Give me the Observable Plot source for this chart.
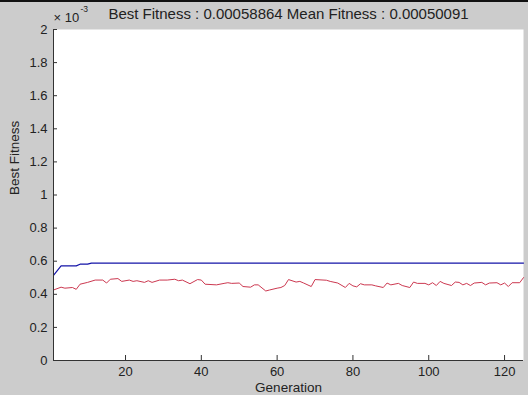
<!DOCTYPE html>
<html>
<head>
<meta charset="utf-8">
<script src="https://cdn.jsdelivr.net/npm/d3@7"></script>
<script src="https://cdn.jsdelivr.net/npm/@observablehq/plot@0.6"></script>
<style>
  html, body { margin: 0; padding: 0; background: #cccccc; }
  #topbar { height: 2px; background: #111; }
  #chart svg { display: block; }
</style>
</head>
<body>
<div id="topbar"></div>
<div id="chart"></div>
<script>
// ---- data (fitness values in units of 1e-3) ----
const titleText = "Best Fitness : 0.00058864 Mean Fitness : 0.00050091";
const xLabel = "Generation";
const yLabel = "Best Fitness";
const xDomain = [1, 125];
const yDomain = [0, 2];
const xTicks = [20, 40, 60, 80, 100, 120];
const yTicks = [0, 0.2, 0.4, 0.6, 0.8, 1, 1.2, 1.4, 1.6, 1.8, 2];

const bestGen = [1, 3, 7, 8, 10, 11, 125];
const bestVal = [0.515, 0.572, 0.572, 0.582, 0.582, 0.5886, 0.5886];

const meanGen = [1, 3, 4, 6, 7, 8, 10, 12, 14, 15, 16, 18, 19, 21, 22, 23, 25, 26, 27, 29,
  31, 33, 34, 35, 37, 39, 40, 41, 44, 46, 47, 48, 50, 51, 53, 54, 55, 57, 58, 60,
  61, 62, 63, 65, 66, 67, 69, 70, 73, 74, 76, 78, 79, 80, 81, 82, 83, 85, 86, 88,
  89, 90, 92, 93, 95, 96, 97, 99, 100, 101, 102, 103, 104, 106, 107, 108, 109, 110, 111, 112,
  114, 115, 116, 118, 119, 120, 121, 122, 124, 125];
const meanVal = [0.426, 0.443, 0.437, 0.441, 0.430, 0.461, 0.472, 0.486, 0.486, 0.468, 0.491, 0.495, 0.478, 0.486, 0.478, 0.482, 0.472, 0.482, 0.472, 0.486,
  0.486, 0.491, 0.482, 0.486, 0.464, 0.489, 0.486, 0.461, 0.457, 0.466, 0.470, 0.466, 0.468, 0.447, 0.443, 0.457, 0.457, 0.420, 0.426, 0.437,
  0.441, 0.453, 0.489, 0.474, 0.478, 0.468, 0.447, 0.489, 0.485, 0.478, 0.468, 0.441, 0.466, 0.451, 0.445, 0.464, 0.457, 0.457, 0.451, 0.441,
  0.468, 0.457, 0.466, 0.453, 0.441, 0.474, 0.466, 0.466, 0.457, 0.470, 0.453, 0.478, 0.466, 0.453, 0.474, 0.472, 0.457, 0.466, 0.453, 0.468,
  0.472, 0.457, 0.468, 0.470, 0.457, 0.468, 0.447, 0.470, 0.470, 0.501];

const best = bestGen.map((g, i) => ({gen: g, value: bestVal[i]}));
const mean = meanGen.map((g, i) => ({gen: g, value: meanVal[i]}));

const font = "'Liberation Sans', Arial, Helvetica, sans-serif";
const ink = "#222";

const chart = Plot.plot({
  width: 528,
  height: 393,
  marginLeft: 53,
  marginRight: 5,
  marginTop: 27,
  marginBottom: 35,
  style: {background: "#cccccc", fontFamily: font, fontSize: "13px", color: ink, overflow: "visible"},
  x: {domain: xDomain},
  y: {domain: yDomain},
  marks: [
    Plot.frame({fill: "white", stroke: null}),
    Plot.line(mean, {x: "gen", y: "value", stroke: "#cc3850", strokeWidth: 1}),
    Plot.line(best, {x: "gen", y: "value", stroke: "#1414a8", strokeWidth: 1.2}),
    Plot.ruleX([xDomain[0]], {stroke: "#333", strokeWidth: 1}),
    Plot.ruleY([yDomain[0]], {stroke: "#333", strokeWidth: 1}),
    Plot.axisX({ticks: xTicks, tickSize: -5, tickPadding: 11, label: null, stroke: "#333", fill: ink, fontSize: 13}),
    Plot.axisY({ticks: yTicks, tickSize: -4, tickPadding: 10, label: null, stroke: "#333", fill: ink, fontSize: 13,
      tickFormat: d => String(d)}),
    Plot.text([xLabel], {frameAnchor: "bottom", lineAnchor: "middle", dy: 27, fill: ink, fontSize: 13.5}),
    Plot.text([yLabel], {frameAnchor: "left", lineAnchor: "middle", dx: -39, rotate: -90, fill: ink, fontSize: 13.5}),
    Plot.text([titleText], {frameAnchor: "top", lineAnchor: "middle", dy: -15, fill: ink, fontSize: 15}),
    Plot.text(["× 10"], {frameAnchor: "top-left", lineAnchor: "middle", textAnchor: "start", dx: 0, dy: -12, fill: ink, fontSize: 13}),
    Plot.text(["-3"], {frameAnchor: "top-left", lineAnchor: "middle", textAnchor: "start", dx: 27, dy: -20, fill: ink, fontSize: 8.5})
  ]
});
document.getElementById("chart").appendChild(chart);
</script>
</body>
</html>
